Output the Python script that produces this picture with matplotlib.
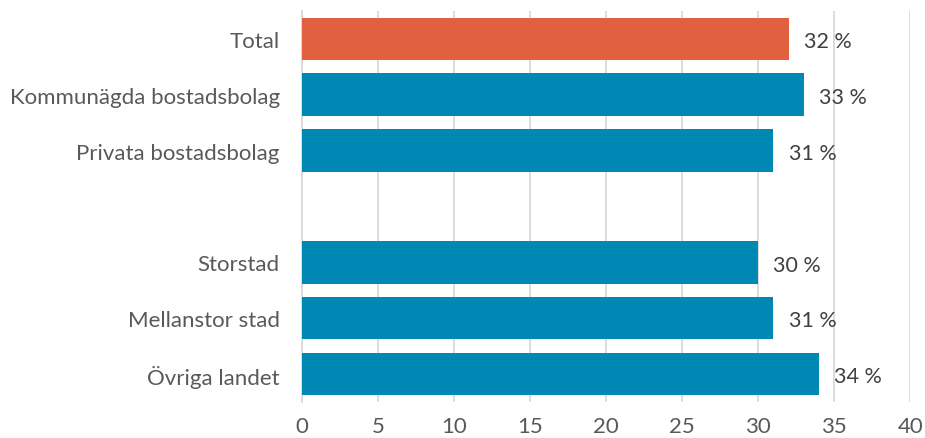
import matplotlib.pyplot as plt

plt.rcParams['font.family'] = ['Lato', 'DejaVu Sans']

# andel per kategori (%), uppifrån och ned; tom rad som avskiljare
labels = ['Total', 'Kommunägda bostadsbolag', 'Privata bostadsbolag', '',
          'Storstad', 'Mellanstor stad', 'Övriga landet']
values = [32, 33, 31, None, 30, 31, 34]
colors = ['#E0603F', '#0088B4', '#0088B4', None, '#0088B4', '#0088B4', '#0088B4']

fig = plt.figure(figsize=(9.25, 4.39), dpi=100)
ax = fig.add_axes([0.3265, 0.082, 0.6575, 0.891])

pos = list(range(len(labels)))
for i, v in enumerate(values):
    if v is None:
        continue
    ax.barh(i, v, height=0.76, color=colors[i], zorder=3)
    ax.text(v + 1.0, i + 0.04, f'{v} %', va='center', ha='left', fontsize=15.5, color='#404040')

ax.set_ylim(len(labels) - 0.5, -0.5)
ax.set_xlim(0, 40)
ax.set_xticks(range(0, 41, 5))
ax.set_yticks(pos)
ax.set_yticklabels(labels)
ax.tick_params(axis='y', length=0, pad=16, labelsize=16, labelcolor='#595959')
ax.tick_params(axis='x', length=0, pad=10, labelsize=16, labelcolor='#595959')
ax.grid(axis='x', color='#D9D9D9', linewidth=1.3, zorder=0)
for s in ['top', 'right', 'bottom']:
    ax.spines[s].set_visible(False)
ax.spines['left'].set_color('#D9D9D9')
ax.spines['left'].set_linewidth(1.3)

fig.savefig('out.png', dpi=100)
